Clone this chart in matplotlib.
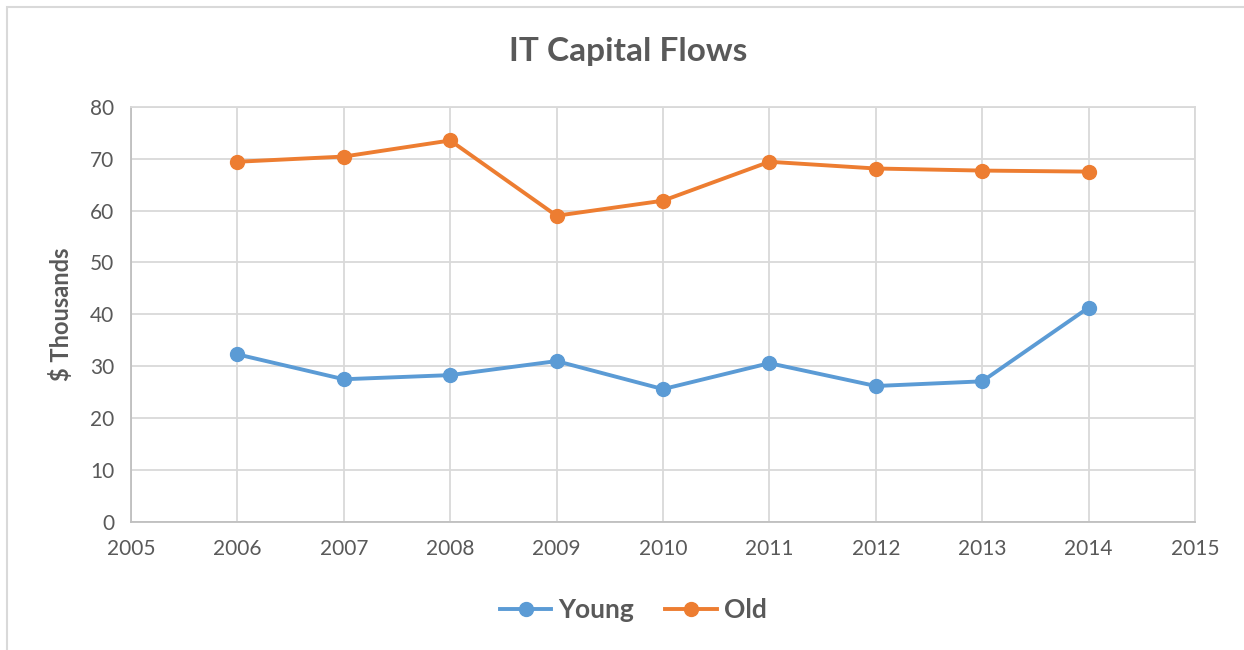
import matplotlib.pyplot as plt
from matplotlib.patches import Rectangle

years = [2006, 2007, 2008, 2009, 2010, 2011, 2012, 2013, 2014]
young = [32.3, 27.5, 28.3, 31.0, 25.6, 30.6, 26.2, 27.1, 41.3]
old = [69.4, 70.4, 73.5, 59.0, 61.9, 69.4, 68.1, 67.7, 67.5]

plt.rcParams['font.family'] = ['Lato', 'DejaVu Sans']
txt = '#595959'

fig = plt.figure(figsize=(12.44, 6.5), dpi=100)
ax = fig.add_axes([0.1053, 0.1969, 0.8553, 0.6389])

# outer chart border, like the spreadsheet frame
fig.patches.append(Rectangle((7 / 1244, -0.01), 1.1, 1 - 7 / 650 + 0.01,
                             transform=fig.transFigure, fill=False,
                             edgecolor='#d9d9d9', linewidth=1.5))

ax.plot(years, young, color='#5B9BD5', linewidth=2.8, marker='o',
        markersize=10, label='Young')
ax.plot(years, old, color='#ED7D31', linewidth=2.8, marker='o',
        markersize=10, label='Old')

ax.set_xlim(2005, 2015)
ax.set_ylim(0, 80)
ax.set_xticks(range(2005, 2016))
ax.set_yticks(range(0, 81, 10))
ax.grid(True, color='#d9d9d9', linewidth=1.3)
ax.set_axisbelow(True)
for s in ax.spines.values():
    s.set_color('#bfbfbf')
    s.set_linewidth(1.3)
ax.spines['top'].set_color('#d9d9d9')
ax.spines['right'].set_color('#d9d9d9')
ax.tick_params(length=0, labelsize=15, labelcolor=txt, pad=12)

ax.set_ylabel('$ Thousands', fontsize=17, fontweight='bold', color=txt,
              labelpad=12)
fig.text(0.505, 0.92, 'IT Capital Flows', ha='center', va='center',
         fontsize=24, fontweight='bold', color=txt)

leg = ax.legend(loc='center', bbox_to_anchor=(0.472, -0.212), ncol=2,
                frameon=False, fontsize=19, handlelength=1.95,
                columnspacing=1.2, handletextpad=0.25)
for t in leg.get_texts():
    t.set_color(txt)
    t.set_fontweight('bold')

fig.savefig('out.png', dpi=100)
